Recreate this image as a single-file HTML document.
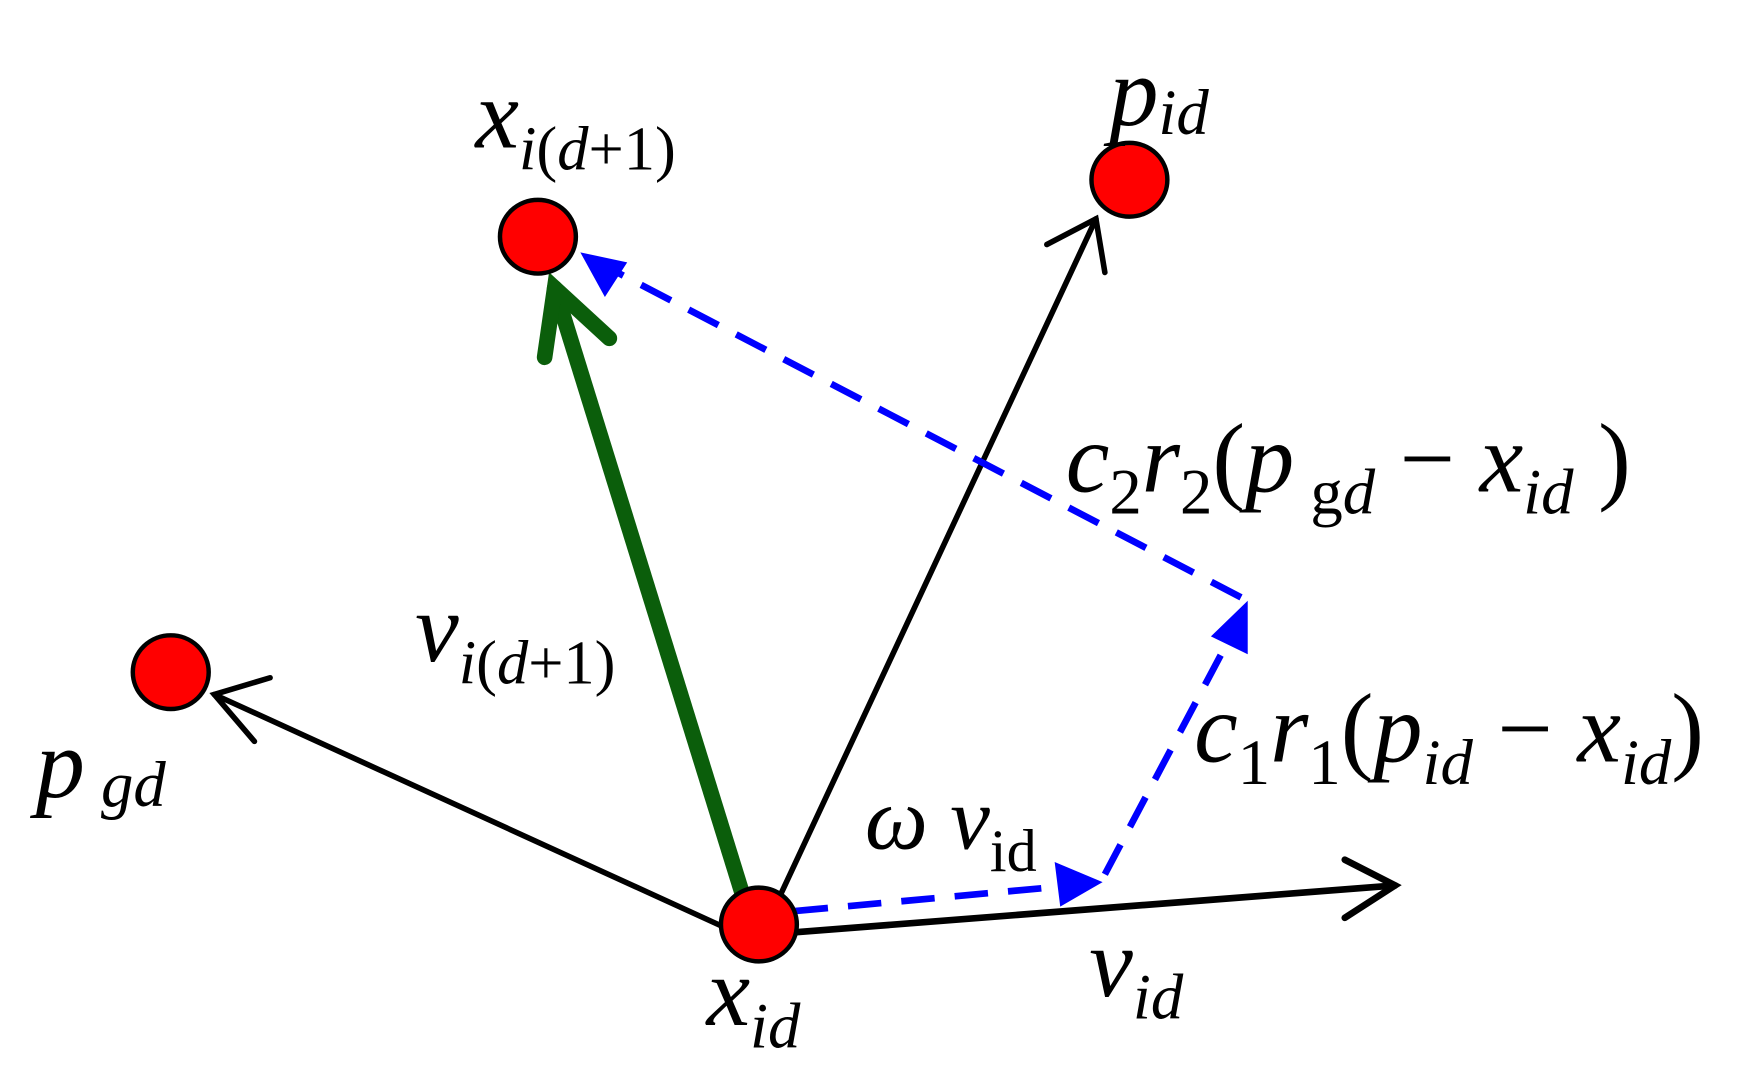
<!DOCTYPE html>
<html><head><meta charset="utf-8"><style>
html,body{margin:0;padding:0;background:#fff;}
svg{display:block;}
text{font-family:"Liberation Serif",serif;fill:#000;}
.i{font-style:italic;}
</style></head><body>
<svg width="1741" height="1073" viewBox="0 0 1560 961" preserveAspectRatio="none" xmlns="http://www.w3.org/2000/svg">
<g stroke="#000" fill="none" stroke-linecap="round">
<line x1="648" y1="830" x2="192" y2="622" stroke-width="5"/>
<polyline points="242,607 192,622 228,664" stroke-width="5"/>
<line x1="700" y1="800" x2="982" y2="196" stroke-width="5"/>
<polyline points="938,219 982,196 990,244" stroke-width="5"/>
<line x1="712" y1="835" x2="1250" y2="793" stroke-width="6"/>
<polyline points="1205,770 1250,793 1205,822" stroke-width="6"/>
</g>
<g stroke="#0b5e0b" fill="none" stroke-linecap="round" stroke-width="14">
<line x1="665" y1="800" x2="497" y2="258"/>
<polyline points="488,320 497,258 546,303"/>
</g>
<g stroke="#0000ff" fill="none" stroke-width="6" stroke-dasharray="30,18">
<line x1="712" y1="816" x2="950" y2="794"/>
<line x1="990" y1="783" x2="1100" y2="575"/>
<line x1="1112" y1="535" x2="555" y2="245"/>
</g>
<g fill="#0000ff">
<polygon points="988,790 945,772 950,812"/>
<polygon points="1118,538 1085,570 1118,586"/>
<polygon points="520,226 562,235 542,266"/>
</g>
<g fill="#ff0000" stroke="#000" stroke-width="4">
<ellipse cx="680" cy="828" rx="34" ry="33"/>
<ellipse cx="482" cy="212" rx="34" ry="33"/>
<ellipse cx="1012" cy="161" rx="34" ry="33"/>
<ellipse cx="153" cy="602" rx="34" ry="33"/>
</g>
<g transform="translate(426,132)"><text font-size="88"><tspan class="i">x</tspan><tspan font-size="56" dy="20"><tspan class="i">i</tspan>(<tspan class="i">d</tspan>+1)</tspan></text></g>
<g transform="translate(994,112)"><text font-size="88"><tspan class="i">p</tspan><tspan class="i" font-size="58" dy="8">id</tspan></text></g>
<g transform="translate(955,440)"><text font-size="88"><tspan class="i">c</tspan><tspan font-size="58" dy="20">2</tspan><tspan class="i" dy="-20">r</tspan><tspan font-size="58" dy="20">2</tspan><tspan dy="-20">(</tspan><tspan class="i">p</tspan><tspan font-size="58" dy="20"> g<tspan class="i">d</tspan></tspan><tspan dy="-20"> − </tspan><tspan class="i">x</tspan><tspan class="i" font-size="58" dy="20">id</tspan><tspan dy="-20"> )</tspan></text></g>
<g transform="translate(1070,682)"><text font-size="88"><tspan class="i">c</tspan><tspan font-size="58" dy="20">1</tspan><tspan class="i" dy="-20">r</tspan><tspan font-size="58" dy="20">1</tspan><tspan dy="-20">(</tspan><tspan class="i">p</tspan><tspan class="i" font-size="58" dy="20">id</tspan><tspan dy="-20"> − </tspan><tspan class="i">x</tspan><tspan class="i" font-size="58" dy="20">id</tspan><tspan dy="-20">)</tspan></text></g>
<g transform="translate(775,760)"><text font-size="80"><tspan class="i">ω v</tspan><tspan font-size="54" dy="20">id</tspan></text></g>
<g transform="translate(372,592)"><text font-size="88"><tspan class="i">v</tspan><tspan font-size="56" dy="20"><tspan class="i">i</tspan>(<tspan class="i">d</tspan>+1)</tspan></text></g>
<g transform="translate(32,714)"><text font-size="88"><tspan class="i">p</tspan><tspan font-size="58" dy="8" class="i"> gd</tspan></text></g>
<g transform="translate(633,918)"><text font-size="88"><tspan class="i">x</tspan><tspan class="i" font-size="58" dy="20">id</tspan></text></g>
<g transform="translate(976,892)"><text font-size="88"><tspan class="i">v</tspan><tspan class="i" font-size="58" dy="20">id</tspan></text></g>
</svg>
</body></html>
